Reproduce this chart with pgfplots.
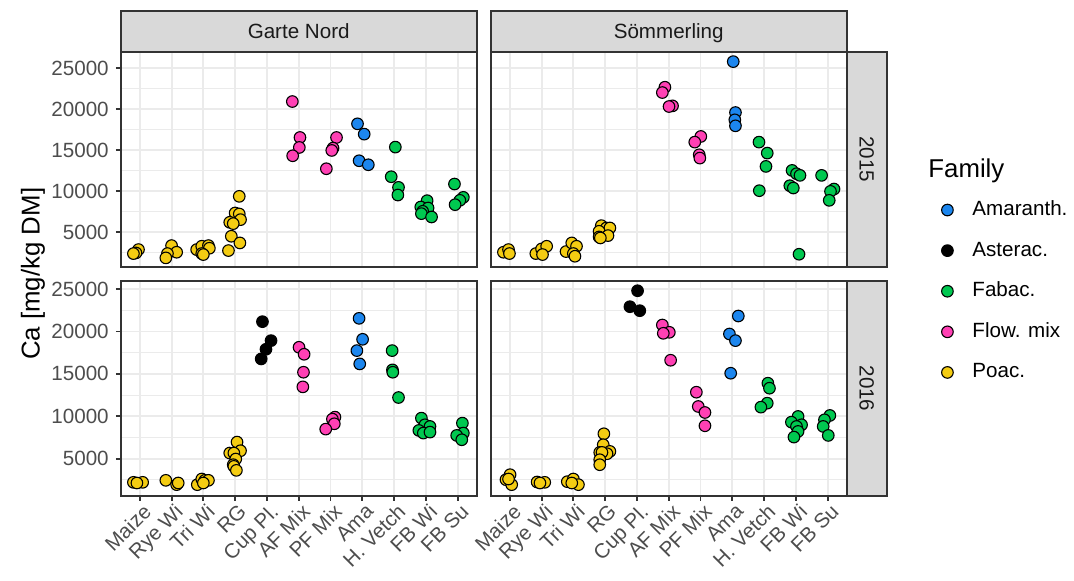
\documentclass[border=0pt]{standalone}
\usepackage{fontspec}
\setmainfont{Liberation Sans}
\usepackage{pgfplots}
\pgfplotsset{compat=1.18}
\definecolor{grey10}{HTML}{1A1A1A}
\definecolor{grey20}{HTML}{333333}
\definecolor{grey30}{HTML}{4D4D4D}
\definecolor{grey85}{HTML}{D9D9D9}
\definecolor{grey92}{HTML}{EBEBEB}
\definecolor{cAma}{HTML}{1C86EE}
\definecolor{cAst}{HTML}{000000}
\definecolor{cFab}{HTML}{00C850}
\definecolor{cFlo}{HTML}{FF40B4}
\definecolor{cPoa}{HTML}{F4CC12}
\newcommand\sfont{\fontsize{10.3}{12}\selectfont}
\newcommand\bfont{\fontsize{12.9}{15}\selectfont}
\pgfplotsset{
 panel/.style={
  scale only axis, width=178pt, height=107.5pt,
  xmin=-0.6, xmax=10.6, xtick={0,...,10},
  ytick={5000,10000,15000,20000,25000},
  minor ytick={2500,7500,12500,17500,22500,27500},
  scaled ticks=false,
  grid=both,
  major grid style={color=grey92, line width=0.95pt},
  minor grid style={color=grey92, line width=0.47pt},
  axis line style={grey20, line width=1pt},
  tick align=outside, major tick length=2.4pt, minor tick length=0pt,
  tick style={grey20, line width=0.95pt},
  xtick pos=bottom, ytick pos=left,
  ticklabel style={font=\sfont, text=grey30},
  xticklabel shift=1.8pt, yticklabel shift=3.4pt,
  /pgf/number format/assume math mode=true,
  /pgf/number format/1000 sep={},
  anchor=north west,
 },
 toprow/.style={ymin=800, ymax=27020, xticklabels={}, xtick style={draw=none}},
 botrow/.style={ymin=600, ymax=25950,
   xticklabels={Maize,Rye Wi,Tri Wi,RG,Cup Pl.,AF Mix,PF Mix,Ama,H. Vetch,FB Wi,FB Su},
   xticklabel style={rotate=45, anchor=north east, inner sep=0pt, xshift=1.5pt}},
 leftcol/.style={yticklabels={5000,10000,15000,20000,25000},
   yticklabel style={anchor=east, inner sep=0pt}},
 rightcol/.style={yticklabels={}, ytick style={draw=none}},
 fam/.style={only marks, mark=*, mark size=2.9pt, forget plot,
   mark options={draw=black, line width=0.55pt, fill=#1}},
}
\begin{document}
\begin{tikzpicture}
\useasboundingbox (0,0) rectangle (537pt,-290pt);
% Garte Nord 2015
\begin{axis}[panel, toprow, leftcol, at={(60.35pt,-25.85pt)}]
\addplot[fam=cPoa] coordinates {(-0.04,2890) (-0.12,2480) (-0.2,2400) (1.0,3376) (1.16,2565) (0.87,2403) (0.82,1876) (1.79,2889) (1.95,3295) (2.16,3376) (2.19,3051) (1.95,2403) (2.0,2281) (3.13,9381) (3.0,7352) (3.13,7230) (3.17,6540) (2.83,6216) (2.94,6054) (2.88,4512) (3.15,3700) (2.79,2768)};
\addplot[fam=cFlo] coordinates {(4.8,20943) (5.04,16561) (5.02,15345) (4.81,14330) (6.19,16561) (6.08,15263) (6.04,14979) (5.87,12748)};
\addplot[fam=cAma] coordinates {(6.85,18225) (7.06,16967) (6.9,13721) (7.19,13234)};
\addplot[fam=cFab] coordinates {(8.04,15385) (7.91,11774) (8.14,10476) (8.12,9543) (9.04,8853) (8.84,8082) (9.07,7960) (8.9,7555) (8.86,7270) (9.18,6865) (9.9,10882) (10.18,9259) (10.07,8894) (9.92,8366)};
\end{axis}
% Soemmerling 2015
\begin{axis}[panel, toprow, rightcol, at={(245.35pt,-25.85pt)},
  legend style={at={(axis description cs:1.2666,0.3083)}, anchor=north west, draw=none, fill=none,
    inner sep=0pt, outer sep=0pt, row sep=10.3pt, column sep=9.6pt, font=\sfont,
    nodes={inner sep=0pt, text height=7.5pt, text depth=2.5pt}},
  legend cell align=left,
  legend image code/.code={\draw[#1] plot coordinates {(0pt,0.2pt)};}]
\addplot[fam=cPoa] coordinates {(-0.2,2565) (-0.04,2889) (-0.01,2403) (0.82,2403) (1.0,2970) (1.16,3295) (1.03,2281) (1.77,2646) (1.95,3700) (2.1,3295) (2.0,2403) (2.05,2078) (2.88,5810) (3.04,5526) (3.15,5526) (2.81,5120) (3.09,4593) (2.81,4431) (2.85,4309)};
\addplot[fam=cFlo] coordinates {(4.88,22688) (4.8,22038) (5.12,20416) (5.01,20335) (6.01,16683) (5.82,15993) (5.96,14452) (5.98,14046)};
\addplot[fam=cAma] coordinates {(7.03,25811) (7.1,19604) (7.08,18712) (7.1,17981)};
\addplot[fam=cFab] coordinates {(7.84,15993) (8.1,14655) (8.06,13032) (7.85,10071) (8.88,12545) (9.02,12140) (9.13,11937) (8.81,10679) (8.92,10395) (9.1,2321) (9.81,11937) (10.2,10273) (10.09,9989) (10.05,8894)};
\addlegendimage{only marks, mark=*, mark size=2.9pt, mark options={draw=black, line width=0.55pt, fill=cAma}}
\addlegendentry{Amaranth.}
\addlegendimage{only marks, mark=*, mark size=2.9pt, mark options={draw=black, line width=0.55pt, fill=cAst}}
\addlegendentry{Asterac.}
\addlegendimage{only marks, mark=*, mark size=2.9pt, mark options={draw=black, line width=0.55pt, fill=cFab}}
\addlegendentry{Fabac.}
\addlegendimage{only marks, mark=*, mark size=2.9pt, mark options={draw=black, line width=0.55pt, fill=cFlo}}
\addlegendentry{Flow. mix}
\addlegendimage{only marks, mark=*, mark size=2.9pt, mark options={draw=black, line width=0.55pt, fill=cPoa}}
\addlegendentry{Poac.}
\end{axis}
% Garte Nord 2016
\begin{axis}[panel, botrow, leftcol, at={(60.35pt,-140.5pt)}]
\addplot[fam=cPoa] coordinates {(-0.2,2213) (0.09,2213) (-0.09,2135) (0.82,2448) (1.16,1939) (1.21,2135) (1.81,1939) (1.95,2605) (2.05,2448) (2.16,2448) (2.0,2135) (3.06,6959) (3.17,5940) (2.83,5665) (2.96,5665) (3.02,4959) (2.94,4292) (2.96,4096) (3.04,3625)};
\addplot[fam=cAst] coordinates {(3.86,21157) (4.13,18921) (3.97,17901) (3.82,16763)};
\addplot[fam=cFlo] coordinates {(5.01,18137) (5.17,17313) (5.15,15195) (5.13,13469) (6.14,9901) (6.06,9665) (6.12,9116) (5.85,8488)};
\addplot[fam=cAma] coordinates {(6.9,21549) (7.01,19078) (6.83,17744) (6.92,16176)};
\addplot[fam=cFab] coordinates {(7.94,17744) (7.95,15470) (7.96,15195) (8.14,12214) (8.86,9783) (8.97,8998) (9.13,8802) (8.78,8332) (8.92,8018) (9.13,8135) (10.15,9194) (10.18,8018) (9.97,7743) (10.13,7233)};
\end{axis}
% Soemmerling 2016
\begin{axis}[panel, botrow, rightcol, at={(245.35pt,-140.5pt)}]
\addplot[fam=cPoa] coordinates {(0.01,3115) (-0.12,2527) (0.06,1939) (-0.04,2605) (0.86,2252) (1.1,2213) (0.95,2135) (1.81,2291) (2.0,2605) (2.16,1939) (1.95,2135) (2.96,7939) (2.94,6645) (3.15,5861) (2.83,5743) (3.06,5586) (2.9,5743) (2.83,4880) (2.83,4292)};
\addplot[fam=cAst] coordinates {(4.02,24804) (3.78,22921) (4.09,22451)};
\addplot[fam=cFlo] coordinates {(4.8,20764) (5.02,19902) (4.83,19784) (5.06,16607) (5.87,12842) (5.93,11155) (6.14,10449) (6.14,8881)};
\addplot[fam=cAma] coordinates {(7.19,21823) (6.91,19705) (7.1,18921) (6.95,15078)};
\addplot[fam=cFab] coordinates {(8.12,13901) (8.17,13312) (8.1,11548) (7.9,11077) (9.07,9979) (8.86,9312) (9.18,8998) (9.02,8802) (9.07,8214) (8.94,7547) (10.07,10096) (9.9,9587) (9.86,8802) (10.02,7743)};
\end{axis}
% strips
\draw[fill=grey85, draw=grey20, line width=1pt] (60.35pt,-5.5pt) rectangle (238.35pt,-25.85pt);
\draw[fill=grey85, draw=grey20, line width=1pt] (245.35pt,-5.5pt) rectangle (423.35pt,-25.85pt);
\draw[fill=grey85, draw=grey20, line width=1pt] (423.35pt,-25.85pt) rectangle (443.65pt,-133.35pt);
\draw[fill=grey85, draw=grey20, line width=1pt] (423.35pt,-140.5pt) rectangle (443.65pt,-248pt);
\node[anchor=base, inner sep=0pt, font=\sfont, text=grey10] at (149.35pt,-19.4pt) {Garte Nord};
\node[anchor=base, inner sep=0pt, font=\sfont, text=grey10] at (334.35pt,-19.4pt) {Sömmerling};
\node[anchor=base, rotate=-90, inner sep=0pt, font=\sfont, text=grey10] at (429.8pt,-79.6pt) {2015};
\node[anchor=base, rotate=-90, inner sep=0pt, font=\sfont, text=grey10] at (429.8pt,-194.25pt) {2016};
% axis title and legend title
\node[rotate=90, inner sep=0pt, font=\bfont, text=black] at (16.5pt,-136.9pt) {Ca [mg/kg DM]};
\node[anchor=base west, inner sep=0pt, font=\bfont, text=black] at (464pt,-88.7pt) {Family};
\end{tikzpicture}
\end{document}
